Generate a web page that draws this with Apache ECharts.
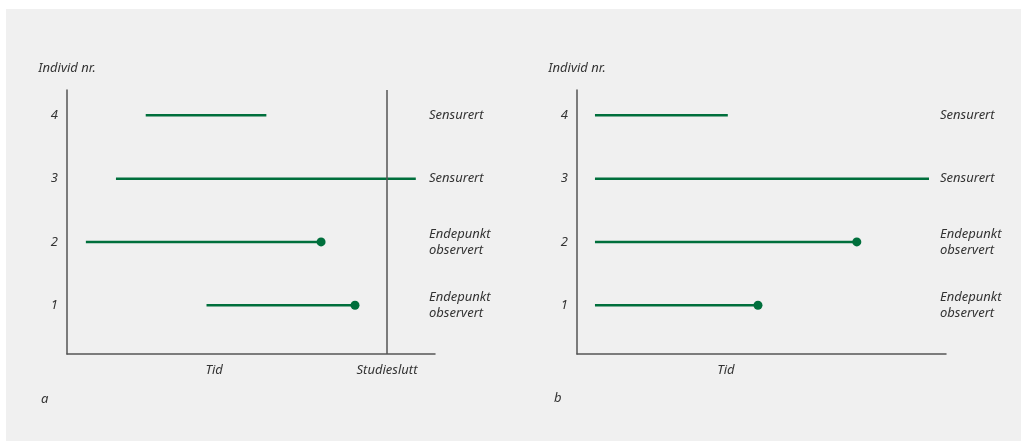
<!DOCTYPE html>
<html>
<head>
<meta charset="utf-8">
<script src="https://cdn.jsdelivr.net/npm/echarts@6/dist/echarts.min.js"></script>
<style>
html,body{margin:0;padding:0;background:#fff;}
#panel{position:absolute;left:6px;top:9px;width:1015px;height:432px;background:#f0f0f0;}
#chart{position:absolute;left:0;top:0;width:1021px;height:441px;}
</style>
</head>
<body>
<div id="panel"></div>
<div id="chart"></div>
<script>
// Data
const individuals = [1, 2, 3, 4];
const statusLabels = ['Endepunkt\nobservert', 'Endepunkt\nobservert', 'Sensurert', 'Sensurert'];
const observed = [true, true, false, false];
const aStart = [4.36, 0.59, 1.53, 2.46];
const aEnd = [9.0, 7.94, 10.9, 6.23];
const bStart = [0.56, 0.56, 0.56, 0.56];
const bEnd = [5.64, 8.72, 10.97, 4.70];
const studyEnd = 10;
const aTickValues = [4.6, 10];
const aTickLabels = ['Tid', 'Studieslutt'];
const bTickValues = [4.64];
const bTickLabels = ['Tid'];
const yTickValues = [1, 2, 3, 4];

const FONT = 'Noto Sans';
const TXT = '#333';
const GREEN = '#006f3c';
const AX = '#555';
const FS = 13;

const chart = echarts.init(document.getElementById('chart'), null, {renderer: 'canvas'});

function xAxisFor(gi, vals, labels) {
  return {
    gridIndex: gi, type: 'value', min: 0, max: 11.5,
    axisLine: {show: true, lineStyle: {color: AX, width: 1.5}},
    axisTick: {show: false}, splitLine: {show: false},
    axisLabel: {
      customValues: vals,
      formatter: v => { const i = vals.indexOf(v); return i >= 0 ? labels[i] : ''; },
      fontFamily: FONT, fontStyle: 'italic', fontSize: FS, color: TXT, margin: 10
    }
  };
}
function yAxisLeft(gi) {
  return {
    gridIndex: gi, type: 'value', min: 0.23, max: 4.4, position: 'left',
    name: 'Individ nr.', nameLocation: 'end', nameGap: 15,
    nameTextStyle: {fontFamily: FONT, fontStyle: 'italic', fontSize: FS, color: TXT},
    axisLine: {show: true, lineStyle: {color: AX, width: 1.5}},
    axisTick: {show: false}, splitLine: {show: false},
    axisLabel: {customValues: yTickValues, fontFamily: FONT, fontStyle: 'italic', fontSize: FS, color: TXT, margin: 9}
  };
}
function yAxisRight(gi) {
  return {
    gridIndex: gi, type: 'value', min: 0.23, max: 4.4, position: 'right',
    axisLine: {show: false}, axisTick: {show: false}, splitLine: {show: false},
    axisLabel: {
      customValues: yTickValues,
      formatter: v => statusLabels[v - 1] || '',
      fontFamily: FONT, fontStyle: 'italic', fontSize: FS, color: TXT, margin: -6,
      lineHeight: 16, align: 'left'
    }
  };
}

const series = [];
function addPanel(gi, starts, ends, withStudyEnd) {
  individuals.forEach((ind, i) => {
    const s = {
      type: 'line', xAxisIndex: gi, yAxisIndex: gi * 2,
      data: [[starts[i], ind], [ends[i], ind]],
      showSymbol: false, symbol: 'none', silent: true,
      lineStyle: {color: GREEN, width: 2.5}
    };
    if (withStudyEnd && i === 0) {
      s.markLine = {
        silent: true, symbol: 'none', label: {show: false},
        lineStyle: {color: AX, width: 1.5, type: 'solid'},
        data: [{xAxis: studyEnd}]
      };
    }
    series.push(s);
  });
  series.push({
    type: 'scatter', xAxisIndex: gi, yAxisIndex: gi * 2,
    data: individuals.filter((d, i) => observed[i]).map(ind => [ends[ind - 1], ind]),
    symbol: 'circle', symbolSize: 9, silent: true,
    itemStyle: {color: GREEN, opacity: 1}
  });
}
addPanel(0, aStart, aEnd, true);
addPanel(1, bStart, bEnd, false);

chart.setOption({
  animation: false,
  backgroundColor: 'transparent',
  title: [
    {text: 'a', left: 36, top: 388, textStyle: {fontFamily: FONT, fontStyle: 'italic', fontWeight: 'normal', fontSize: FS, color: TXT}},
    {text: 'b', left: 549, top: 387, textStyle: {fontFamily: FONT, fontStyle: 'italic', fontWeight: 'normal', fontSize: FS, color: TXT}}
  ],
  grid: [
    {left: 67, right: 586, top: 90, bottom: 87},
    {left: 577, right: 75, top: 90, bottom: 87}
  ],
  xAxis: [xAxisFor(0, aTickValues, aTickLabels), xAxisFor(1, bTickValues, bTickLabels)],
  yAxis: [yAxisLeft(0), yAxisRight(0), yAxisLeft(1), yAxisRight(1)],
  series: series
});
</script>
</body>
</html>
